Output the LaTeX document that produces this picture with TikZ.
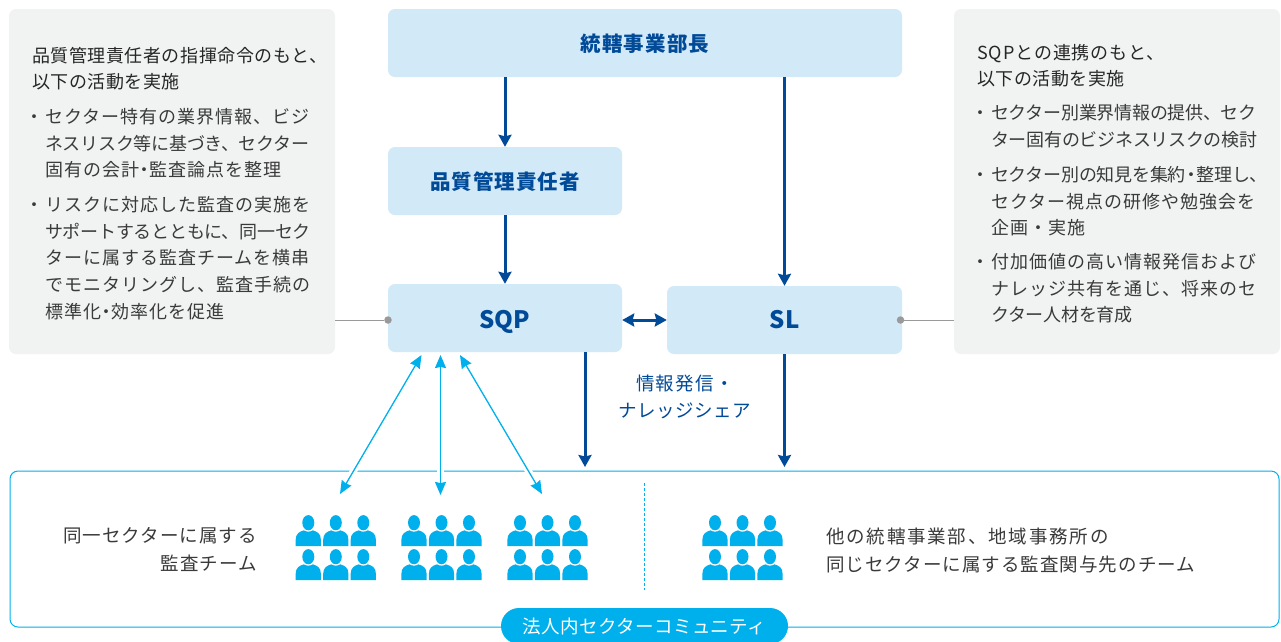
\documentclass[tikz,border=0pt]{standalone}
\usepackage{fontspec}
\usetikzlibrary{arrows.meta,calc}
\setmainfont{Noto Sans CJK JP}
\newcommand{\nd}{\kern-.2em ・\kern-.2em }
\newcommand{\lsp}[2]{{\addfontfeature{LetterSpace=#1}#2}}
\definecolor{navy}{HTML}{004A98}
\definecolor{cyanb}{HTML}{00B0EC}
\definecolor{paleb}{HTML}{D2E9F8}
\definecolor{paleg}{HTML}{F1F3F3}
\definecolor{bodytx}{HTML}{3A3A3A}
\definecolor{linkg}{HTML}{9A9A9A}
\tikzset{
  x=1pt,y=-1pt,
  rolebox/.style={draw=none,fill=paleb,rounded corners=7pt,inner sep=0pt,text=navy,
    font=\fontsize{20.5}{24}\selectfont\bfseries\addfontfeature{LetterSpace=5}},
  latinbox/.style={rolebox,font=\fontsize{24}{28}\selectfont\bfseries},
  notebox/.style={draw=none,fill=paleg,rounded corners=7pt,inner sep=0pt},
  head/.style={anchor=north west,inner sep=0pt,align=left,text=black!85,
    font=\fontsize{18}{26}\selectfont\addfontfeature{LetterSpace=3}},
  para/.style={anchor=north west,inner sep=0pt,align=left,text=bodytx,
    font=\fontsize{18}{26.8}\selectfont},
  deep/.style={draw=navy,line width=3pt,-{Stealth[length=12pt,width=13pt,inset=1.5pt]}},
  deepboth/.style={draw=navy,line width=3pt,{Stealth[length=12pt,width=13pt,inset=1.5pt]}-{Stealth[length=12pt,width=13pt,inset=1.5pt]}},
  skyboth/.style={draw=cyanb,line width=1.3pt,{Stealth[length=13pt,width=11pt,inset=1pt]}-{Stealth[length=13pt,width=11pt,inset=1pt]},
    preaction={draw=white,line width=7pt,-}},
  link/.style={draw=linkg,line width=1pt},
  linkdot/.style={circle,fill=linkg,draw=none,inner sep=0pt,minimum size=7.5pt},
  person/.pic={
    \fill[cyanb] (-12.6,23.3) -- (-12.6,17) .. controls (-12.6,11) and (-9,9) .. (-4.5,7.6)
      .. controls (-2,9.4) and (2,9.4) .. (4.5,7.6)
      .. controls (9,9) and (12.6,11) .. (12.6,17) -- (12.6,23.3) -- cycle;
    \fill[cyanb] (0,0) ellipse [x radius=6,y radius=7.6];
  }
}
\begin{document}
\begin{tikzpicture}
\clip (0,0) rectangle (1281,641);
\fill[white] (0,0) rectangle (1281,641);
% note boxes
\node[notebox,minimum width=326pt,minimum height=345pt] (noteL) at (172,181.5) {};
\node[notebox,minimum width=326pt,minimum height=345pt] (noteR) at (1117,181.5) {};
% role boxes
\node[rolebox,minimum width=514pt,minimum height=68pt,text height=17pt,text depth=0pt] (top) at (645,43) {統轄事業部長};
\node[rolebox,minimum width=234pt,minimum height=68pt,text height=17pt,text depth=0pt] (qm) at (505,181) {品質管理責任者};
\node[latinbox,minimum width=234pt,minimum height=68pt,text height=21.5pt,text depth=0pt] (sqp) at (505,318) {SQP};
\node[latinbox,minimum width=235pt,minimum height=68pt,text height=17.5pt,text depth=0pt] (sl) at (784.5,320) {SL};
% community frame
\node[draw=cyanb,line width=1pt,rounded corners=8pt,minimum width=1269pt,minimum height=156pt,inner sep=0pt] (comm) at (644.5,549) {};
\coordinate (t1) at (340,494);
\coordinate (t2) at (440.5,495);
\coordinate (t3) at (542,494);
\coordinate (s1) at (421.5,355);
\coordinate (s2) at (440.5,355);
\coordinate (s3) at (460,355);
\coordinate (d1) at (585,467);
\coordinate (d2) at (784.5,467);
\coordinate (dashA) at (644.5,483);
\coordinate (dashB) at (644.5,590);
% pill
\node[fill=cyanb,rounded corners=18pt,minimum width=287pt,minimum height=36pt,inner sep=0pt,text=white,
  font=\fontsize{18.5}{22}\selectfont\addfontfeature{LetterSpace=2}] (pill) at (644.5,626) {法人内セクターコミュニティ};
% connectors
\draw[deep] (top.south -| qm.south) -- (qm.north);
\draw[deep] (qm.south) -- (sqp.north);
\draw[deep] (top.south -| sl.north) -- (sl.north);
\draw[deepboth] (sqp.east |- sl.west) -- (sl.west);
\draw[deep] (sqp.south -| d1) -- (d1);
\draw[deep] (sl.south) -- (d2);
\draw[skyboth] (s1) -- (t1);
\draw[skyboth] (s2) -- (t2);
\draw[skyboth] (s3) -- (t3);
\draw[draw=cyanb,line width=.7pt,dash pattern=on 3pt off 2pt] (dashA) -- (dashB);
% gray links
\node[linkdot] (dotL) at (388,320) {};
\node[linkdot] (dotR) at (900.5,320) {};
\draw[link] (noteL.east |- dotL) -- (dotL);
\draw[link] (dotR) -- (noteR.west |- dotR);
% left note
\node[head] (lh) at (32,47.5) {品質管理責任者の指揮命令のもと、\\以下の活動を実施};
\node[para] (lp1) at (45,108) {\makebox[0pt][r]{・\kern.1em}\lsp{5.5}{セクター特有の業界情報、ビジ}\\\lsp{-1.5}{ネスリスク等に基づき、セクター}\\\lsp{5.5}{固有の会計\nd 監査論点を整理}};
\node[para] (lp2) at (45,196) {\makebox[0pt][r]{・\kern.1em}\lsp{5.5}{リスクに対応した監査の実施を}\\\lsp{-1.5}{サポートするとともに、同一セク}\\\lsp{5.5}{ターに属する監査チームを横串}\\\lsp{5.5}{でモニタリングし、監査手続の}\\\lsp{5.5}{標準化\nd 効率化を促進}};
% right note
\node[head] (rh) at (977,44.5) {\lsp{5}{SQPとの連携のもと、}\\以下の活動を実施};
\node[para] (rp1) at (991,104) {\makebox[0pt][r]{・\kern.1em}\lsp{-1.5}{セクター別業界情報の提供、セク}\\\lsp{-1.5}{ター固有のビジネスリスクの検討}};
\node[para] (rp2) at (991,166) {\makebox[0pt][r]{・\kern.1em}\lsp{-1.5}{セクター別の知見を集約\nd 整理し、}\\\lsp{5.5}{セクター視点の研修や勉強会を}\\\lsp{5.5}{企画・実施}};
\node[para] (rp3) at (991,253) {\makebox[0pt][r]{・\kern.1em}\lsp{5.5}{付加価値の高い情報発信および}\\\lsp{5.5}{ナレッジ共有を通じ、将来のセ}\\\lsp{-1.5}{クター人材を育成}};
% labels
\node[inner sep=0pt,align=center,text=navy,font=\fontsize{18.5}{27}\selectfont] (share) at (685,397) {\lsp{7}{情報発信・}\\\lsp{2.5}{ナレッジシェア}};
\node[inner sep=0pt,align=right,text=bodytx,font=\fontsize{18.5}{28}\selectfont,anchor=east] (teamL) at (257,550) {\lsp{5.5}{同一セクターに属する}\\\lsp{5.5}{監査チーム}};
\node[inner sep=0pt,align=left,text=bodytx,font=\fontsize{18.5}{28}\selectfont,anchor=west] (teamR) at (826,550) {\lsp{9.7}{他の統轄事業部、地域事務所の}\\\lsp{5.6}{同じセクターに属する監査関与先のチーム}};
% people
\foreach \gx in {308.3,414,520,715}
  \foreach \px in {0,27.5,55}
    \foreach \py in {522.7,556.7}
      \pic at (\gx+\px,\py) {person};
\end{tikzpicture}
\end{document}
